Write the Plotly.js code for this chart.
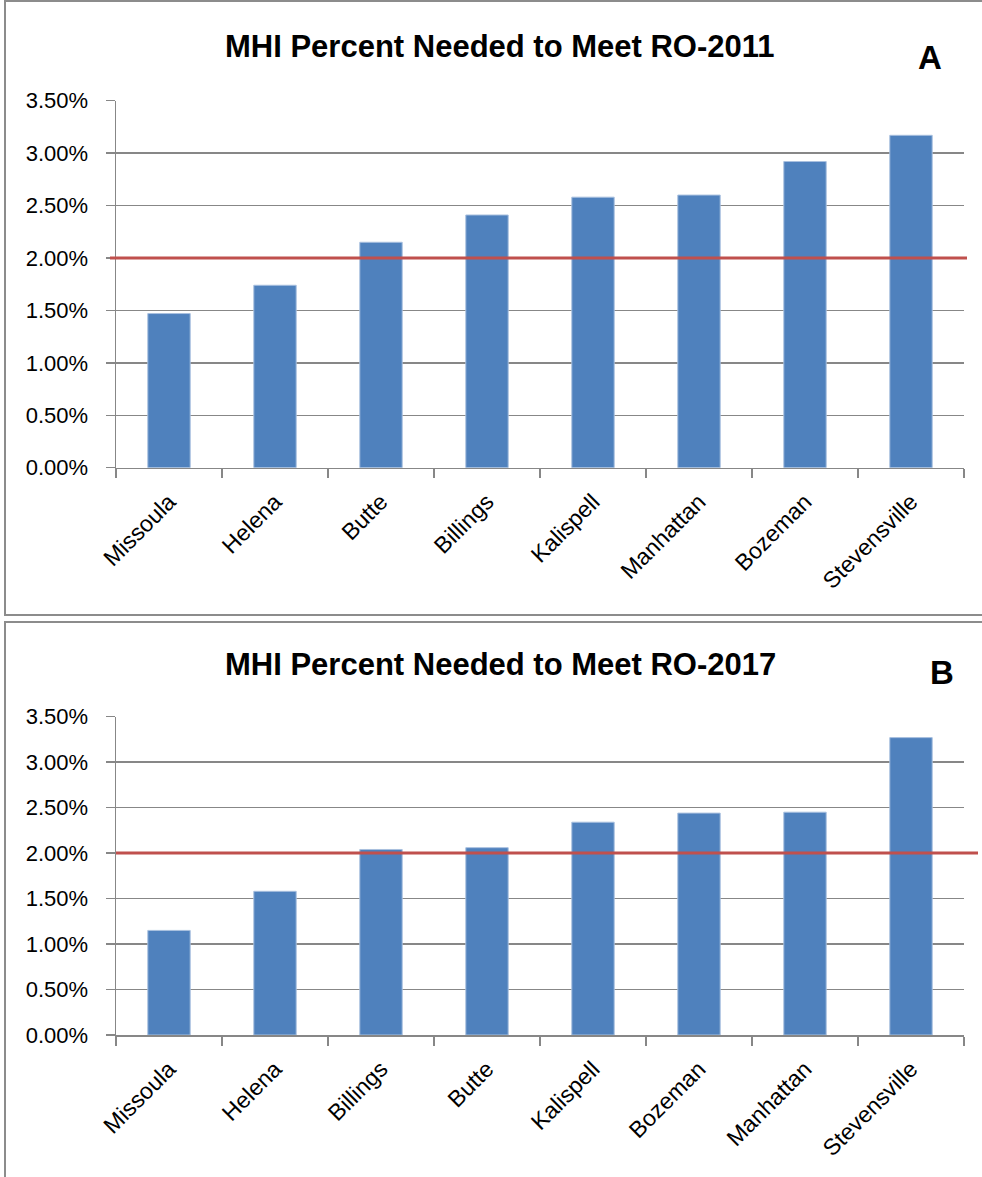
<!DOCTYPE html>
<html>
<head>
<meta charset="utf-8">
<script src="https://cdn.plot.ly/plotly-3.0.1.min.js"></script>
<style>html,body{margin:0;padding:0;background:#fff;}#chart{width:982px;height:1177px;}</style>
</head>
<body>
<div id="chart"></div>
<script>
// ---- Data ----
const titleA = "MHI Percent Needed to Meet RO-2011";
const titleB = "MHI Percent Needed to Meet RO-2017";
const citiesA = ["Missoula", "Helena", "Butte", "Billings", "Kalispell", "Manhattan", "Bozeman", "Stevensville"];
const valuesA = [1.47, 1.74, 2.15, 2.41, 2.58, 2.60, 2.92, 3.17];
const citiesB = ["Missoula", "Helena", "Billings", "Butte", "Kalispell", "Bozeman", "Manhattan", "Stevensville"];
const valuesB = [1.15, 1.58, 2.04, 2.06, 2.34, 2.44, 2.45, 3.27];
const targetA = 2.0;
const targetB = 2.0;
const yTicks = [0, 0.5, 1.0, 1.5, 2.0, 2.5, 3.0, 3.5];
const yTickText = ["0.00%", "0.50%", "1.00%", "1.50%", "2.00%", "2.50%", "3.00%", "3.50%"];

// ---- Styling ----
const W = 982, H = 1177;
const px = v => v / W;
const py = v => 1 - v / H;
const barColor = "#4f81bd";
const gridColor = "#878787";
const redColor = "#c0504d";
const font = "Liberation Sans, Arial, sans-serif";

const barTrace = (x, y, xa, ya) => ({
  type: "bar", x: x, y: y, xaxis: xa, yaxis: ya,
  marker: {color: barColor, line: {color: "#a9c0df", width: 1}},
  hoverinfo: "x+y", showlegend: false
});

const xAxisCommon = {
  type: "category",
  domain: [px(116), px(964)],
  showline: true, linecolor: gridColor, linewidth: 1.5,
  ticks: "outside", ticklen: 9, tickcolor: gridColor, tickwidth: 1.5,
  tickson: "boundaries",
  ticklabelstandoff: 10,
  showgrid: false,
  tickangle: -45,
  tickfont: {family: font, size: 23, color: "#000"},
  fixedrange: true
};
const yAxisCommon = {
  range: [0, 3.5],
  tickmode: "array",
  tickvals: yTicks,
  ticktext: yTickText,
  showline: true, linecolor: gridColor, linewidth: 1.5,
  ticks: "outside", ticklen: 9, tickcolor: gridColor, tickwidth: 1.5,
  ticklabelstandoff: 13,
  showgrid: true, gridcolor: gridColor, gridwidth: 1.5,
  zeroline: false,
  tickfont: {family: font, size: 22, color: "#000"},
  fixedrange: true
};

const layout = {
  width: W, height: H,
  margin: {l: 0, r: 0, t: 0, b: 0},
  paper_bgcolor: "#fff", plot_bgcolor: "#fff",
  bargap: 0.6,
  showlegend: false,
  xaxis: Object.assign({}, xAxisCommon, {anchor: "y"}),
  yaxis: Object.assign({}, yAxisCommon, {domain: [py(467.7), py(100.7)], anchor: "x"}),
  xaxis2: Object.assign({}, xAxisCommon, {anchor: "y2"}),
  yaxis2: Object.assign({}, yAxisCommon, {domain: [py(1035), py(716.7)], anchor: "x2"}),
  shapes: [
    // panel frames
    {type: "rect", xref: "paper", yref: "paper", x0: px(5), x1: 1.02, y0: py(615), y1: py(1), line: {color: "#8c8c8c", width: 2}, layer: "below"},
    {type: "rect", xref: "paper", yref: "paper", x0: px(5), x1: 1.02, y0: -0.02, y1: py(622), line: {color: "#8c8c8c", width: 2}, layer: "below"},
    // target lines
    {type: "line", xref: "paper", yref: "y", x0: px(110), x1: px(967), y0: targetA, y1: targetA, line: {color: redColor, width: 3}, layer: "above"},
    {type: "line", xref: "paper", yref: "y2", x0: px(116), x1: px(978), y0: targetB, y1: targetB, line: {color: redColor, width: 3}, layer: "above"}
  ],
  annotations: [
    {text: "<b>" + titleA + "</b>", xref: "paper", yref: "paper", x: px(500), y: py(47), xanchor: "center", yanchor: "middle", showarrow: false, font: {family: font, size: 31, color: "#000"}},
    {text: "<b>A</b>", xref: "paper", yref: "paper", x: px(930), y: py(58), xanchor: "center", yanchor: "middle", showarrow: false, font: {family: font, size: 33, color: "#000"}},
    {text: "<b>" + titleB + "</b>", xref: "paper", yref: "paper", x: px(500), y: py(664), xanchor: "center", yanchor: "middle", showarrow: false, font: {family: font, size: 31, color: "#000"}},
    {text: "<b>B</b>", xref: "paper", yref: "paper", x: px(942), y: py(672), xanchor: "center", yanchor: "middle", showarrow: false, font: {family: font, size: 33, color: "#000"}}
  ]
};

Plotly.newPlot("chart", [
  barTrace(citiesA, valuesA, "x", "y"),
  barTrace(citiesB, valuesB, "x2", "y2")
], layout, {displayModeBar: false, staticPlot: true});
</script>
</body>
</html>
